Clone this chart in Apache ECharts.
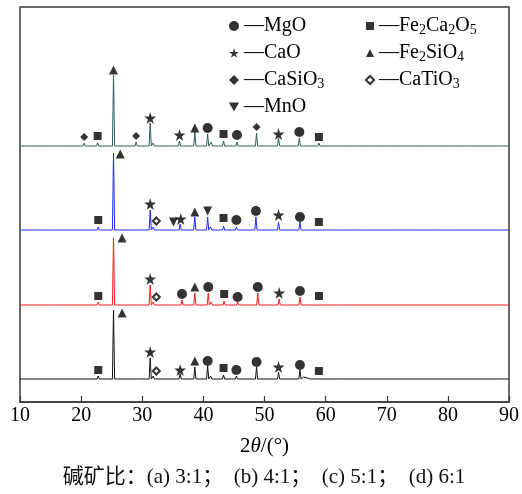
<!DOCTYPE html>
<html>
<head>
<meta charset="utf-8">
<script src="https://cdn.jsdelivr.net/npm/echarts@6/dist/echarts.min.js"></script>
<style>
  html, body { margin: 0; padding: 0; background: #fff; }
  #chart { width: 522px; height: 494px; }
</style>
</head>
<body>
<div id="chart"></div>
<script>
const serif = '"Liberation Serif", "Times New Roman", serif'

// 2theta axis
const xMin = 10
const xMax = 90
const xStep = 10

// patterns (a)..(d): name, baseline offset, label lift
const patternNames = ['(a)', '(b)', '(c)', '(d)']
const baselines = [23, 97, 172, 256]
const labelLift = [19, 17, 17, 19]

// peaks per pattern: [2theta, height above baseline]
const peaksA = [[12.1, 1], [14.6, 1], [22.8, 3], [25.3, 69], [29.2, 1], [31.3, 21], [31.8, 3], [34.7, 2], [36.2, 5], [38.6, 12], [40.7, 13], [41.2, 3], [43.3, 4], [45.4, 3], [48.7, 12], [49.2, 2], [52.3, 7], [55.8, 9], [56.4, 2], [57.7, 1.5], [58.9, 2], [60.7, 1.5], [62.4, 2], [65.5, 1], [67.1, 1], [71.5, 1.5], [73.0, 1], [74.3, 2], [78.7, 1.5], [80.1, 1], [82.8, 1.5], [88.4, 2]]
const peaksB = [[12.3, 1], [14.8, 1], [17.5, 1], [22.8, 3], [25.3, 67], [29.2, 1], [31.3, 20], [31.8, 3], [34.6, 2], [36.5, 5], [38.6, 12], [40.8, 12], [41.3, 3], [43.4, 4], [45.6, 3], [48.9, 12], [49.4, 2], [52.4, 6], [55.8, 8], [56.5, 2], [57.8, 2], [58.9, 2], [60.7, 1.5], [62.4, 2], [65.5, 1.5], [67.1, 1.5], [71.5, 1.5], [73.0, 1], [74.3, 2], [76.6, 1], [78.7, 1.5], [80.1, 1], [82.8, 1.5], [88.4, 2]]
const peaksC = [[12.0, 1], [15.0, 1], [22.8, 3], [25.3, 77], [29.0, 1], [31.3, 20], [31.8, 3], [32.3, 1], [35.0, 2], [36.2, 6], [38.6, 13], [40.7, 13], [41.2, 3], [43.3, 4], [45.4, 3], [48.6, 13], [49.1, 2], [52.3, 8], [55.8, 8], [56.5, 2], [57.7, 1.5], [58.9, 2], [60.7, 1.5], [62.4, 2], [65.5, 1], [67.1, 1], [71.5, 1.5], [73.0, 1], [74.3, 2], [78.7, 1.5], [80.1, 1], [82.8, 1.5], [88.4, 2]]
const peaksD = [[11.6, 1], [16.0, 1], [20.5, 3], [22.7, 3], [25.3, 71], [29.0, 4], [31.3, 23], [31.8, 3], [35.3, 2], [36.1, 5], [38.6, 14], [40.7, 12], [41.3, 4], [43.3, 5], [45.5, 4], [48.7, 13], [50.5, 2], [52.3, 8], [55.7, 8], [56.5, 2], [58.9, 3], [60.7, 2], [62.4, 2], [65.6, 1.5], [67.3, 1.5], [71.0, 2], [72.7, 1.5], [74.3, 2], [76.6, 1], [78.7, 1.5], [80.4, 1], [83.2, 1.5], [88.6, 2]]
const patternPeaks = [peaksA, peaksB, peaksC, peaksD]

// phase markers: [pattern index, 2theta, height above baseline]
const mgoMarks = [[0, 40.7, 18], [0, 45.4, 9], [0, 48.7, 17], [0, 55.8, 14], [1, 36.5, 11], [1, 40.8, 18], [1, 45.6, 8], [1, 48.9, 18], [1, 55.8, 14], [2, 45.4, 10], [2, 48.6, 19], [2, 55.8, 13], [3, 40.7, 18], [3, 45.5, 11], [3, 55.7, 14]]
const caoMarks = [[0, 31.3, 27], [0, 36.2, 9], [0, 52.3, 12], [1, 31.3, 26], [1, 52.4, 12], [2, 31.3, 26], [2, 36.3, 11], [2, 52.3, 15], [3, 31.3, 28], [3, 36.1, 11], [3, 52.3, 12]]
const casio3Marks = [[3, 20.5, 9], [3, 29.0, 10], [3, 48.7, 19]]
const mnoMarks = [[2, 35.1, 8], [2, 40.7, 19]]
const fe2ca2o5Marks = [[0, 22.8, 9], [0, 43.3, 11], [0, 58.9, 8], [1, 22.8, 9], [1, 43.4, 11], [1, 58.9, 9], [2, 22.8, 10], [2, 43.3, 12], [2, 58.9, 8], [3, 22.7, 10], [3, 43.3, 12], [3, 58.9, 9]]
const fe2sio4Marks = [[0, 26.7, 66], [0, 38.6, 18], [1, 26.7, 67], [1, 38.6, 18], [2, 26.4, 76], [2, 38.6, 18], [3, 25.3, 76], [3, 38.6, 18]]
const catio3Marks = [[0, 32.3, 8], [1, 32.3, 8], [2, 32.3, 9]]

const phaseNames = ['MgO', 'CaO', 'CaSiO3', 'MnO', 'Fe2Ca2O5', 'Fe2SiO4', 'CaTiO3']
const phaseMarks = [mgoMarks, caoMarks, casio3Marks, mnoMarks, fe2ca2o5Marks, fe2sio4Marks, catio3Marks]

const caption = '碱矿比：(a) 3:1；  (b) 4:1；  (c) 5:1；  (d) 6:1'

// styles
const patternColors = ['#111111', '#ff1a1a', '#1f2bff', '#2e5f5b']
const starPath = 'path://M50,0 L61,35 L98,35 L68,57 L79,91 L50,70 L21,91 L32,57 L2,35 L39,35 Z'
const downTriPath = 'path://M0,0 L10,0 L5,9 Z'
const phaseSymbols = ['circle', starPath, 'diamond', downTriPath, 'rect', 'triangle', 'emptyDiamond']
const phaseSizes = [10, 12, 8, 9, 8, 9, 7]

const halfWidth = 0.18

const buildTrace = (base, peaks) => {
  const pts = [[xMin, base]]
  peaks.forEach(([x, h]) => {
    pts.push([x - halfWidth, base], [x, base + h], [x + halfWidth, base])
  })
  pts.push([xMax, base])
  return pts
}

const subscript = (name) => '—' + name.replace(/(\d)/g, '{s|$1}')

const legendText = {
  fontFamily: serif,
  fontSize: 20,
  color: '#000',
  lineHeight: 22,
  rich: {
    s: { fontFamily: serif, fontSize: 14, lineHeight: 14, verticalAlign: 'bottom', color: '#000' }
  }
}

const chart = echarts.init(document.getElementById('chart'))

const traceSeries = patternPeaks.map((peaks, i) => ({
  name: patternNames[i],
  type: 'line',
  data: buildTrace(baselines[i], peaks),
  showSymbol: false,
  silent: true,
  z: 2,
  lineStyle: { color: patternColors[i], width: 1 }
}))

const markerSeries = phaseNames.map((name, k) => ({
  name: name,
  type: 'scatter',
  data: phaseMarks[k].map(([i, x, h]) => [x, baselines[i] + h]),
  symbol: phaseSymbols[k],
  symbolSize: phaseSizes[k],
  z: 5,
  silent: true,
  itemStyle: { color: '#000', borderColor: '#000', borderWidth: k === 6 ? 1 : 0 }
}))

const labelSeries = {
  type: 'scatter',
  data: patternNames.map((n, i) => [13.3, baselines[i] + labelLift[i], n]),
  symbolSize: 1,
  itemStyle: { opacity: 0 },
  silent: true,
  label: {
    show: true,
    position: 'inside',
    formatter: (p) => p.data[2],
    fontFamily: serif,
    fontSize: 22,
    color: '#000'
  }
}

chart.setOption({
  animation: false,
  backgroundColor: '#fff',
  grid: {
    left: 20,
    right: 13,
    top: 7,
    bottom: 92,
    show: true,
    borderColor: '#3a3a3a',
    borderWidth: 1.5
  },
  legend: [
    {
      orient: 'vertical',
      left: 224,
      top: 10,
      itemWidth: 10,
      itemHeight: 10,
      itemGap: 5,
      selectedMode: false,
      data: phaseNames.slice(0, 4).map((n, k) => ({ name: n, icon: phaseSymbols[k] })),
      formatter: subscript,
      textStyle: legendText
    },
    {
      orient: 'vertical',
      left: 360,
      top: 10,
      itemWidth: 8,
      itemHeight: 8,
      itemGap: 5,
      selectedMode: false,
      data: phaseNames.slice(4).map((n, k) => ({ name: n, icon: phaseSymbols[k + 4] })),
      formatter: subscript,
      textStyle: legendText
    }
  ],
  xAxis: {
    type: 'value',
    min: xMin,
    max: xMax,
    interval: xStep,
    name: '2{i|θ}/(°)',
    nameLocation: 'middle',
    nameGap: 34,
    nameTextStyle: {
      fontFamily: serif,
      fontSize: 21,
      color: '#000',
      rich: { i: { fontFamily: serif, fontSize: 21, fontStyle: 'italic', color: '#000' } }
    },
    axisLine: { show: true, lineStyle: { color: '#3a3a3a', width: 1.5 } },
    axisTick: { show: true, inside: true, length: 6, lineStyle: { color: '#3a3a3a', width: 1.2 } },
    axisLabel: { fontFamily: serif, fontSize: 20, color: '#000', margin: 4 },
    splitLine: { show: false }
  },
  yAxis: {
    type: 'value',
    min: 0,
    max: 395,
    axisLine: { show: false },
    axisTick: { show: false },
    axisLabel: { show: false },
    splitLine: { show: false }
  },
  graphic: [
    {
      type: 'text',
      x: 264,
      y: 477,
      style: {
        text: caption,
        fontFamily: '"Liberation Serif", "Noto Sans CJK SC", serif',
        fontSize: 21,
        fill: '#111',
        align: 'center',
        verticalAlign: 'middle'
      }
    }
  ],
  series: [...traceSeries, ...markerSeries, labelSeries]
})
</script>
</body>
</html>
